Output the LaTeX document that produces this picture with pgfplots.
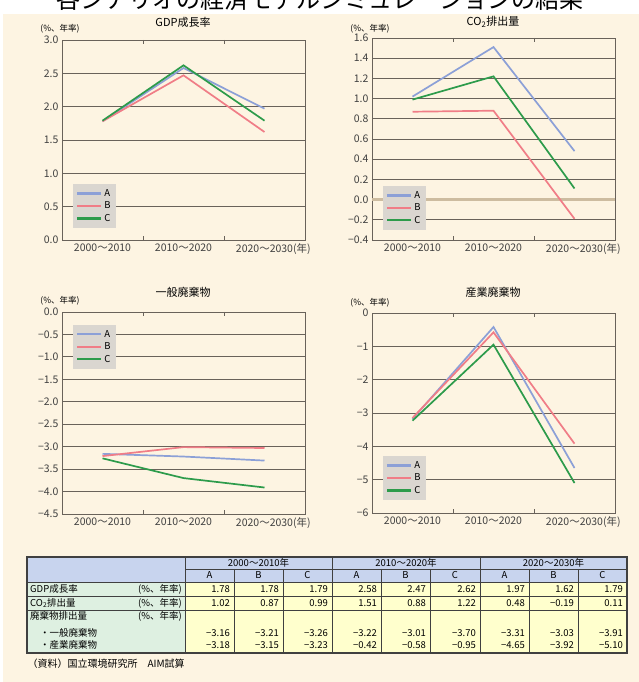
\documentclass[border=0pt]{standalone}
\usepackage{fontspec}
\setmainfont{Noto Sans CJK JP}
\usepackage{pgfplots}
\pgfplotsset{compat=1.18}
\definecolor{cream}{RGB}{253,244,226}
\definecolor{gridc}{RGB}{105,98,90}
\definecolor{serA}{RGB}{140,160,215}
\definecolor{serB}{RGB}{240,125,135}
\definecolor{serC}{RGB}{45,155,75}
\definecolor{legfill}{RGB}{218,214,208}
\definecolor{hdr}{RGB}{200,212,238}
\definecolor{lab}{RGB}{222,240,225}
\definecolor{val}{RGB}{255,255,205}
\definecolor{zeroc}{RGB}{205,188,160}
\pgfplotsset{legend image code/.code={\draw[#1, line width=2.2pt] (0pt,0pt) -- (24pt,0pt);}}
\pgfplotsset{panel/.style={
  scale only axis, width=243pt,
  xmin=-0.5, xmax=2.5, xtick={0,1,2},
  xticklabels={2000〜2010,2010〜2020,2020〜2030\rlap{(年)}},
  major x tick style={draw=none}, minor xtick={0.5,1.5},
  minor x tick style={gridc, line width=0.9pt}, minor tick length=4pt,
  ymajorgrids, grid style={gridc, line width=0.9pt},
  axis line style={gridc, line width=0.9pt},
  y tick style={draw=none},
  tick label style={font=\fontsize{10.5}{11}\selectfont, text=black!75},
  legend style={fill=legfill, draw=none, font=\fontsize{9.5}{10}\selectfont,
    inner sep=3pt},
  legend cell align=left,
}}
\newcommand{\legABC}{%
  \addlegendimage{serA}\addlegendentry{A}
  \addlegendimage{serB}\addlegendentry{B}
  \addlegendimage{serC}\addlegendentry{C}}
\begin{document}
\begin{tikzpicture}[font=\fontsize{9}{10}\selectfont]
\useasboundingbox (0pt,0pt) rectangle (639pt,682pt);
\clip (0pt,0pt) rectangle (639pt,682pt);
\fill[white] (0pt,0pt) rectangle (639pt,682pt);
\begin{scope}[x=1pt,y=-1pt,shift={(0pt,682pt)}]
  \fill[cream] (3,14) rectangle (639,682);
  \node[font=\fontsize{24}{24}\selectfont, anchor=base] at (320,9) {各シナリオの経済モデルシミュレーションの結果};
  % panel titles
  \node[font=\fontsize{11}{12}\selectfont] at (183,22) {GDP成長率};
  \node[font=\fontsize{11}{12}\selectfont] at (493,22) {CO\textsubscript{2}排出量};
  \node[font=\fontsize{11}{12}\selectfont] at (183,292) {一般廃棄物};
  \node[font=\fontsize{11}{12}\selectfont] at (493,292) {産業廃棄物};
  \node[font=\fontsize{8.5}{9}\selectfont] at (60,29) {(\%、年率)};
  \node[font=\fontsize{8.5}{9}\selectfont] at (370,29) {(\%、年率)};
  \node[font=\fontsize{8.5}{9}\selectfont] at (60,301) {(\%、年率)};
  \node[font=\fontsize{8.5}{9}\selectfont] at (370,303) {(\%、年率)};
  % table
  \fill[hdr] (27,557) rectangle (627,582);
  \fill[lab] (27,582) rectangle (185,653);
  \fill[val] (185,582) rectangle (627,653);
  \begin{scope}[draw=black!75, line width=0.8pt]
    \foreach \xx in {234,283,381,430,529,578} \draw (\xx,569) -- (\xx,653);
    \foreach \xx in {185,332,480} \draw (\xx,557) -- (\xx,653);
    \draw (185,569) -- (627,569);
    \foreach \yy in {582,596,610} \draw (27,\yy) -- (627,\yy);
    \draw[line width=1.1pt] (27,557) rectangle (627,653);
  \end{scope}
  \begin{scope}[every node/.style={font=\fontsize{9.5}{10}\selectfont, inner sep=0pt}]
    \node at (258.5,563) {2000〜2010年};
    \node at (406,563) {2010〜2020年};
    \node at (553.5,563) {2020〜2030年};
    \foreach \cc/\tt in {209.5/A,258.5/B,307.5/C,356.5/A,405.5/B,455/C,504.5/A,553.5/B,602.5/C}
      \node at (\cc,575.5) {\tt};
    \node[anchor=west] at (30,589) {GDP成長率};
    \node[anchor=east] at (182,589) {(\%、年率)};
    \node[anchor=west] at (30,603) {CO\textsubscript{2}排出量};
    \node[anchor=east] at (182,603) {(\%、年率)};
    \node[anchor=west] at (30,616) {廃棄物排出量};
    \node[anchor=east] at (182,616) {(\%、年率)};
    \node[anchor=west] at (40,633) {・一般廃棄物};
    \node[anchor=west] at (40,645) {・産業廃棄物};
    \foreach \xr/\vv in {230/1.78,279/1.78,328/1.79,377/2.58,426/2.47,476/2.62,525/1.97,574/1.62,623/1.79}
      \node[anchor=east] at (\xr,589) {\vv};
    \foreach \xr/\vv in {230/1.02,279/0.87,328/0.99,377/1.51,426/0.88,476/1.22,525/0.48,574/−0.19,623/0.11}
      \node[anchor=east] at (\xr,603) {\vv};
    \foreach \xr/\vv in {230/−3.16,279/−3.21,328/−3.26,377/−3.22,426/−3.01,476/−3.70,525/−3.31,574/−3.03,623/−3.91}
      \node[anchor=east] at (\xr,633) {\vv};
    \foreach \xr/\vv in {230/−3.18,279/−3.15,328/−3.23,377/−0.42,426/−0.58,476/−0.95,525/−4.65,574/−3.92,623/−5.10}
      \node[anchor=east] at (\xr,645) {\vv};
  \end{scope}
  \node[anchor=west, font=\fontsize{10}{11}\selectfont] at (24,664) {（資料）国立環境研究所　AIM試算};
\end{scope}

% Panel 1: GDP
\begin{axis}[panel, at={(62pt,442pt)}, anchor=south west, height=200pt,
  ymin=0, ymax=3, ytick={0,0.5,1,1.5,2,2.5,3},
  yticklabels={0.0,0.5,1.0,1.5,2.0,2.5,3.0},
  legend style={at={(0.045,0.06)}, anchor=south west}]
\addplot[serA, line width=1.7pt, forget plot] coordinates {(0,1.78) (1,2.58) (2,1.97)};
\addplot[serB, line width=1.7pt, forget plot] coordinates {(0,1.78) (1,2.47) (2,1.62)};
\addplot[serC, line width=1.7pt, forget plot] coordinates {(0,1.79) (1,2.62) (2,1.79)};
\legABC
\end{axis}

% Panel 2: CO2
\begin{axis}[panel, at={(372pt,442pt)}, anchor=south west, height=202pt,
  ymin=-0.4, ymax=1.6, ytick={-0.4,-0.2,0,0.2,0.4,0.6,0.8,1.0,1.2,1.4,1.6},
  yticklabels={−0.4,−0.2,0.0,0.2,0.4,0.6,0.8,1.0,1.2,1.4,1.6},
  extra y ticks={0}, extra y tick labels={},
  extra y tick style={grid style={zeroc, line width=3.5pt}},
  legend style={at={(0.045,0.05)}, anchor=south west}]
\addplot[serA, line width=1.7pt, forget plot] coordinates {(0,1.02) (1,1.51) (2,0.48)};
\addplot[serB, line width=1.7pt, forget plot] coordinates {(0,0.87) (1,0.88) (2,-0.19)};
\addplot[serC, line width=1.7pt, forget plot] coordinates {(0,0.99) (1,1.22) (2,0.11)};
\legABC
\end{axis}

% Panel 3: general waste
\begin{axis}[panel, at={(62pt,168pt)}, anchor=south west, height=202pt,
  ymin=-4.5, ymax=0, ytick={-4.5,-4,-3.5,-3,-2.5,-2,-1.5,-1,-0.5,0},
  yticklabels={−4.5,−4.0,−3.5,−3.0,−2.5,−2.0,−1.5,−1.0,−0.5,0.0},
  legend style={at={(0.045,0.936)}, anchor=north west}]
\addplot[serA, line width=1.7pt, forget plot] coordinates {(0,-3.16) (1,-3.22) (2,-3.31)};
\addplot[serB, line width=1.7pt, forget plot] coordinates {(0,-3.21) (1,-3.01) (2,-3.03)};
\addplot[serC, line width=1.7pt, forget plot] coordinates {(0,-3.26) (1,-3.70) (2,-3.91)};
\legABC
\end{axis}

% Panel 4: industrial waste
\begin{axis}[panel, at={(372pt,169pt)}, anchor=south west, height=200pt,
  ymin=-6, ymax=0, ytick={-6,-5,-4,-3,-2,-1,0},
  yticklabels={−6,−5,−4,−3,−2,−1,0},
  legend style={at={(0.045,0.065)}, anchor=south west}]
\addplot[serA, line width=1.7pt, forget plot] coordinates {(0,-3.18) (1,-0.42) (2,-4.65)};
\addplot[serB, line width=1.7pt, forget plot] coordinates {(0,-3.15) (1,-0.58) (2,-3.92)};
\addplot[serC, line width=1.7pt, forget plot] coordinates {(0,-3.23) (1,-0.95) (2,-5.10)};
\legABC
\end{axis}
\end{tikzpicture}
\end{document}
